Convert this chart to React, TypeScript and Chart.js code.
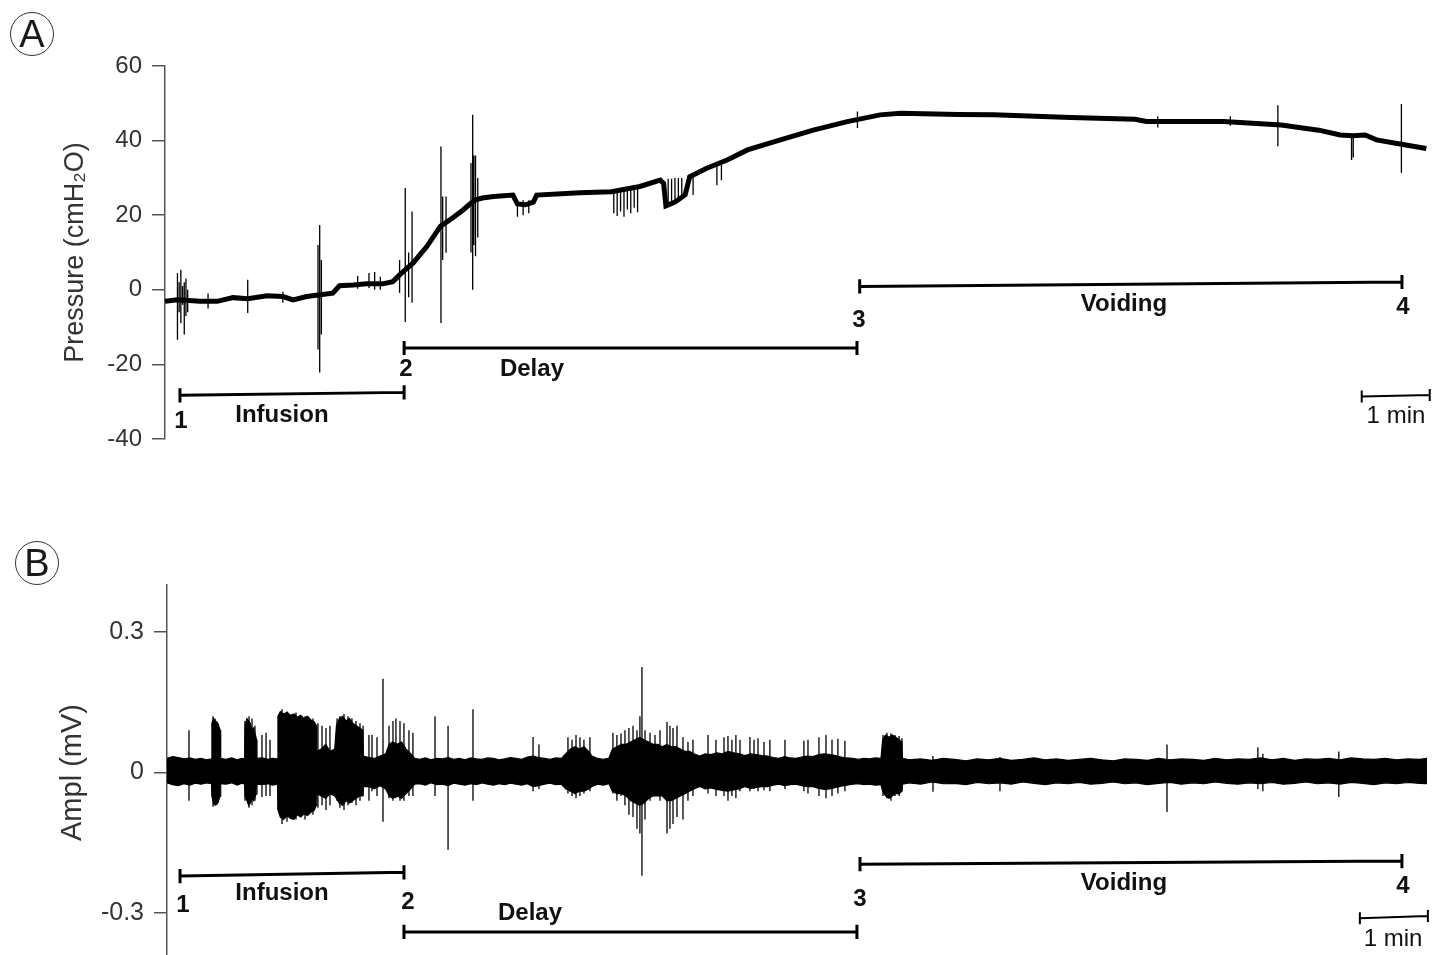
import React, { useEffect, useRef } from "react";
import { Chart, registerables } from "chart.js";

Chart.register(...registerables);

const FONT = '"Liberation Sans", Arial, Helvetica, sans-serif';
const X_MAX = 1118; // seconds spanned by the plot width

// ---------------- Panel A: bladder pressure (cmH2O) vs time (s) ----------------
const pressureTime = [
  0, 11, 31, 46, 60, 73, 90, 104, 113, 125, 137, 148, 154, 166, 178, 192, 201, 207, 213, 219,
  231, 243, 254, 263, 269, 274, 280, 290, 307, 311, 318, 325, 328, 366, 394, 419, 437, 440, 442, 450,
  459, 463, 478, 496, 514, 543, 572, 602, 631, 649, 700, 731, 799, 856, 866, 934, 985, 1018, 1037, 1048,
  1059, 1069, 1091, 1113,
];
const pressureValue = [
  -3.1, -2.7, -3.1, -3.1, -2.1, -2.4, -1.6, -1.8, -2.7, -1.8, -1.3, -0.9, 1.1, 1.3, 1.6, 1.6, 2.2, 4.0, 5.6, 7.2,
  11.6, 17.0, 19.3, 21.4, 23.0, 24.1, 24.6, 25.0, 25.4, 23.0, 22.8, 23.5, 25.4, 26.0, 26.3, 27.7, 29.4, 28.5, 22.5, 23.5,
  25.5, 30.3, 32.6, 34.8, 37.5, 40.2, 42.8, 45.1, 46.9, 47.3, 47.0, 46.9, 46.2, 45.7, 45.1, 45.1, 44.2, 42.8, 41.5, 41.3,
  41.5, 40.2, 39.0, 37.9,
];
const pressureSpikeTime = [
  11, 12.5, 14, 15.5, 17, 18.5, 20, 38, 73, 104,
  135, 136.5, 138, 170, 180, 185, 190, 207, 212, 215,
  218, 243.5, 245, 248, 270, 271.5, 272.5, 274, 276, 311,
  316, 321, 396, 399, 402, 405, 408, 411, 414, 417,
  444, 447, 450, 453, 456, 466, 487, 491, 611, 876,
  940, 982, 1047, 1048.5, 1091,
];
const pressureSpikeLow = [
  -13.4, -6, -9, -4, -12, -7, -6, -5, -6.2, -3.5,
  -16, -22.2, -12, 0.3, 0.5, 0, 0, -0.8, -8.6, -2,
  -3.5, -8.9, 8, 9.9, 10, 0, 12, 9, 14, 19.6,
  20, 20.5, 20.5, 19.8, 21, 19.6, 21.5, 20.5, 22, 20.8,
  22.8, 23, 23.5, 24, 24.5, 25.4, 28, 29.4, 43.4, 43.5,
  44, 38.5, 34.8, 35.5, 31.4,
];
const pressureSpikeHigh = [
  4.5, 2, 5.4, 1, 2, 3, 0, -1, 2.7, -0.5,
  12, 17.4, 8, 3.7, 4.5, 4.8, 3.5, 8, 27.3, 10,
  21, 38.4, 25, 25, 34, 46.9, 36, 36, 30, 24,
  24, 24, 26.3, 26.3, 26.5, 26.5, 26.8, 27, 27.2, 27.5,
  29.8, 29.8, 30, 30, 30, 30.5, 33.5, 33.5, 47.8, 46.5,
  46.5, 49.5, 41.5, 41.5, 49.8,
];
const pressureTicks = [60, 40, 20, 0, -20, -40];

// phase brackets (Infusion, Delay, Voiding) and 1-min scale bar, panel A
const phaseStartA = [13.2, 211, 613];
const phaseEndA = [211, 610.6, 1091.5];
const phaseLevelStartA = [-28.3, -15.6, 0.9];
const phaseLevelEndA = [-27.5, -15.6, 2.1];
const scaleBarTimeA = [1056, 1116];
const scaleBarLevelA = [-28.6, -28.2];

const labelText = ["1", "Infusion", "2", "Delay", "3", "Voiding", "4", "1 min"];
const labelBold = [true, true, true, true, true, true, true, false];
const labelTimeA = [14.1, 103.2, 212.6, 323.8, 612.3, 846.2, 1092.3, 1086.2];
const labelValueA = [-35.3, -33.7, -21.4, -21.2, -8.3, -4.0, -4.6, -34.0];

// ---------------- Panel B: EMG amplitude (mV) vs time (s) ----------------
// envelope of the dense EMG band (upper / lower edge)
const emgBandTime = [
  0, 5, 10, 15, 20, 25, 30, 35, 39.3, 39.6,
  41, 42.5, 44, 45.5, 47, 47.4, 52, 57, 62, 66,
  68.5, 68.9, 70.5, 72, 73.5, 75, 76.5, 78, 79, 79.4,
  84, 89, 93, 97.5, 97.9, 100, 103, 106, 109, 112,
  115, 118, 121, 124, 127, 130, 131.8, 132.2, 136, 140,
  144, 148, 149.5, 152, 155, 158, 161, 164, 167, 170,
  172.8, 173.3, 178, 183, 188, 193, 196, 199, 203, 207,
  211, 215, 218.5, 223, 228, 233, 238, 243, 248, 253,
  258, 263, 268, 273, 278, 283, 288, 293, 298, 303,
  308, 313, 318, 323, 328, 333, 338, 343, 348, 352,
  356, 360, 364, 368, 372, 375, 380, 385, 390, 393,
  397, 401, 405, 409, 413, 417, 421, 425, 429, 433,
  437, 441, 445, 449, 453, 457, 461, 465, 470, 475,
  480, 485, 490, 495, 500, 505, 510, 515, 520, 525,
  530, 535, 540, 545, 550, 555, 560, 565, 570, 575,
  580, 585, 590, 595, 600, 605, 610, 615, 620, 625,
  630, 631.5, 634, 637, 640, 643, 646, 648.5, 649, 655,
  665, 675, 685, 695, 705, 715, 725, 735, 745, 755,
  765, 775, 785, 795, 805, 815, 825, 835, 845, 855,
  865, 875, 885, 895, 905, 915, 925, 935, 945, 955,
  965, 975, 985, 995, 1005, 1015, 1025, 1035, 1045, 1055,
  1065, 1075, 1085, 1095, 1105, 1111.8,
];
const emgBandHigh = [
  0.030, 0.034, 0.032, 0.029, 0.031, 0.028, 0.030, 0.027, 0.029, 0.105,
  0.115, 0.11, 0.108, 0.10, 0.09, 0.03, 0.028, 0.031, 0.027, 0.030,
  0.029, 0.10, 0.115, 0.11, 0.105, 0.09, 0.095, 0.08, 0.07, 0.03,
  0.031, 0.028, 0.030, 0.029, 0.12, 0.13, 0.125, 0.128, 0.122, 0.125,
  0.118, 0.122, 0.115, 0.12, 0.112, 0.108, 0.10, 0.045, 0.05, 0.06,
  0.045, 0.05, 0.10, 0.115, 0.12, 0.11, 0.115, 0.105, 0.10, 0.095,
  0.09, 0.035, 0.032, 0.030, 0.035, 0.04, 0.06, 0.065, 0.06, 0.065,
  0.05, 0.04, 0.03, 0.028, 0.031, 0.027, 0.030, 0.029, 0.032, 0.028,
  0.030, 0.027, 0.031, 0.029, 0.028, 0.031, 0.030, 0.027, 0.029, 0.032,
  0.030, 0.028, 0.033, 0.035, 0.032, 0.030, 0.028, 0.031, 0.030, 0.04,
  0.05, 0.055, 0.05, 0.055, 0.045, 0.035, 0.03, 0.028, 0.031, 0.05,
  0.055, 0.06, 0.06, 0.065, 0.07, 0.075, 0.07, 0.065, 0.06, 0.06,
  0.055, 0.06, 0.055, 0.055, 0.05, 0.045, 0.045, 0.04, 0.035, 0.04,
  0.038, 0.042, 0.04, 0.045, 0.042, 0.04, 0.036, 0.04, 0.038, 0.036,
  0.035, 0.032, 0.030, 0.034, 0.031, 0.030, 0.033, 0.035, 0.034, 0.038,
  0.04, 0.038, 0.036, 0.033, 0.031, 0.030, 0.028, 0.030, 0.029, 0.031,
  0.030, 0.07, 0.08, 0.075, 0.08, 0.075, 0.07, 0.065, 0.03, 0.027,
  0.029, 0.026, 0.030, 0.028, 0.025, 0.029, 0.027, 0.030, 0.026, 0.028,
  0.031, 0.027, 0.029, 0.026, 0.028, 0.030, 0.027, 0.025, 0.029, 0.028,
  0.026, 0.030, 0.027, 0.029, 0.028, 0.026, 0.030, 0.027, 0.029, 0.028,
  0.031, 0.027, 0.030, 0.026, 0.029, 0.028, 0.030, 0.027, 0.031, 0.029,
  0.028, 0.030, 0.027, 0.029, 0.028, 0.030,
];
const emgBandLow = [
  -0.022, -0.026, -0.028, -0.024, -0.027, -0.023, -0.025, -0.022, -0.024, -0.05,
  -0.065, -0.07, -0.068, -0.06, -0.05, -0.024, -0.025, -0.022, -0.027, -0.023,
  -0.025, -0.05, -0.06, -0.07, -0.065, -0.055, -0.06, -0.05, -0.045, -0.025,
  -0.026, -0.024, -0.027, -0.025, -0.08, -0.095, -0.10, -0.092, -0.098, -0.10,
  -0.09, -0.095, -0.088, -0.092, -0.085, -0.08, -0.07, -0.045, -0.05, -0.055,
  -0.045, -0.05, -0.055, -0.065, -0.07, -0.06, -0.065, -0.06, -0.055, -0.05,
  -0.05, -0.03, -0.03, -0.035, -0.028, -0.035, -0.05, -0.055, -0.05, -0.055,
  -0.045, -0.035, -0.025, -0.024, -0.027, -0.022, -0.026, -0.025, -0.028, -0.023,
  -0.025, -0.027, -0.024, -0.026, -0.022, -0.025, -0.027, -0.024, -0.026, -0.023,
  -0.025, -0.027, -0.024, -0.030, -0.028, -0.025, -0.023, -0.026, -0.025, -0.035,
  -0.04, -0.045, -0.04, -0.04, -0.035, -0.03, -0.025, -0.027, -0.024, -0.04,
  -0.045, -0.045, -0.05, -0.06, -0.065, -0.07, -0.065, -0.055, -0.05, -0.05,
  -0.05, -0.06, -0.06, -0.055, -0.05, -0.045, -0.04, -0.035, -0.03, -0.035,
  -0.033, -0.036, -0.038, -0.04, -0.037, -0.035, -0.03, -0.034, -0.032, -0.03,
  -0.03, -0.027, -0.025, -0.028, -0.026, -0.025, -0.028, -0.03, -0.03, -0.034,
  -0.036, -0.035, -0.032, -0.029, -0.027, -0.025, -0.024, -0.026, -0.025, -0.027,
  -0.026, -0.04, -0.05, -0.055, -0.05, -0.045, -0.045, -0.04, -0.025, -0.022,
  -0.025, -0.020, -0.024, -0.023, -0.026, -0.021, -0.024, -0.022, -0.025, -0.020,
  -0.023, -0.026, -0.022, -0.024, -0.021, -0.025, -0.023, -0.020, -0.024, -0.022,
  -0.026, -0.023, -0.021, -0.025, -0.022, -0.024, -0.020, -0.023, -0.025, -0.022,
  -0.024, -0.021, -0.025, -0.023, -0.020, -0.024, -0.022, -0.025, -0.021, -0.023,
  -0.026, -0.022, -0.024, -0.021, -0.023, -0.024,
];
// individual EMG discharges (vertical strokes)
const emgSpikeTime = [
  19.4, 40.6, 42.4, 45.0, 68.8, 72.4, 75.0, 77.6, 83.8, 87.4,
  90.9, 101.5, 105.9, 113.8, 121.8, 128.8, 133.2, 136.8, 140.3, 143.8,
  150.0, 152.6, 156.2, 159.7, 163.2, 166.8, 170.3, 173.0, 178.2, 180.9,
  185.3, 190.6, 195.9, 199.4, 202.0, 205.6, 209.1, 213.5, 217.0, 236.5,
  248.0, 270.0, 323.0, 328.2, 353.8, 357.4, 360.9, 364.4, 367.9, 373.2,
  393.5, 397.0, 400.6, 404.1, 407.6, 411.2, 414.7, 417.3, 419.1, 421.8,
  426.2, 430.6, 435.0, 441.2, 443.8, 446.5, 450.0, 455.3, 459.7, 464.1,
  477.4, 484.4, 491.5, 495.0, 498.5, 502.0, 505.6, 514.4, 518.0, 521.5,
  526.8, 532.0, 545.3, 562.0, 565.6, 575.3, 581.5, 586.8, 592.0, 598.2,
  631.8, 635.3, 638.8, 642.4, 646.0, 648.5, 675.9, 735.0, 882.4, 962.6,
  967.0, 1034.0,
];
const emgSpikeHigh = [
  0.09, 0.12, 0.115, 0.105, 0.11, 0.12, 0.115, 0.1, 0.08, 0.085,
  0.07, 0.135, 0.13, 0.128, 0.12, 0.115, 0.105, 0.1, 0.095, 0.1,
  0.115, 0.12, 0.125, 0.12, 0.115, 0.11, 0.105, 0.1, 0.08, 0.08,
  0.075, 0.2, 0.1, 0.11, 0.115, 0.11, 0.105, 0.09, 0.085, 0.12,
  0.1, 0.135, 0.076, 0.06, 0.075, 0.07, 0.08, 0.075, 0.07, 0.075,
  0.085, 0.08, 0.083, 0.09, 0.095, 0.1, 0.09, 0.12, 0.225, 0.09,
  0.085, 0.08, 0.09, 0.108, 0.1, 0.095, 0.1, 0.075, 0.065, 0.07,
  0.08, 0.07, 0.075, 0.078, 0.07, 0.08, 0.07, 0.076, 0.07, 0.073,
  0.065, 0.07, 0.07, 0.068, 0.07, 0.075, 0.08, 0.07, 0.072, 0.068,
  0.08, 0.085, 0.083, 0.08, 0.078, 0.073, 0.035, 0.033, 0.06, 0.054,
  0.04, 0.045,
];
const emgSpikeLow = [
  -0.06, -0.073, -0.07, -0.065, -0.06, -0.075, -0.07, -0.06, -0.052, -0.05,
  -0.05, -0.11, -0.105, -0.1, -0.1, -0.09, -0.075, -0.07, -0.08, -0.07,
  -0.06, -0.075, -0.08, -0.07, -0.065, -0.07, -0.06, -0.05, -0.06, -0.04,
  -0.05, -0.105, -0.055, -0.06, -0.055, -0.06, -0.06, -0.05, -0.05, -0.05,
  -0.165, -0.06, -0.04, -0.035, -0.045, -0.05, -0.055, -0.05, -0.045, -0.04,
  -0.045, -0.06, -0.05, -0.07, -0.09, -0.095, -0.12, -0.13, -0.22, -0.1,
  -0.06, -0.05, -0.06, -0.13, -0.12, -0.11, -0.095, -0.1, -0.06, -0.05,
  -0.045, -0.05, -0.05, -0.06, -0.05, -0.055, -0.04, -0.04, -0.035, -0.04,
  -0.038, -0.04, -0.035, -0.04, -0.045, -0.05, -0.055, -0.05, -0.045, -0.04,
  -0.05, -0.055, -0.06, -0.05, -0.05, -0.04, -0.041, -0.04, -0.084, -0.035,
  -0.04, -0.052,
];
const emgTicks = [0.3, 0, -0.3];

const phaseStartB = [11.5, 209.1, 611.5];
const phaseEndB = [209.1, 608.8, 1089.7];
const phaseLevelStartB = [-0.221, -0.34, -0.1955];
const phaseLevelEndB = [-0.213, -0.34, -0.189];
const scaleBarTimeB = [1052.6, 1112.6];
const scaleBarLevelB = [-0.311, -0.306];
const labelTimeB = [14.1, 101.5, 212.6, 320.3, 611.5, 844.4, 1090.6, 1081.8];
const labelValueB = [-0.283, -0.257, -0.276, -0.3, -0.27, -0.236, -0.242, -0.355];

// ---------------- helpers ----------------
type Pt = { x: number; y: number | null };

function spikePoints(t: number[], lo: number[], hi: number[]): Pt[] {
  const out: Pt[] = [];
  for (let i = 0; i < t.length; i++) {
    out.push({ x: t[i], y: lo[i] }, { x: t[i], y: hi[i] }, { x: t[i], y: null });
  }
  return out;
}

function bracketPoints(x1: number, x2: number, y1: number, y2: number, cap: number): Pt[] {
  return [
    { x: x1, y: y1 - cap }, { x: x1, y: y1 + cap }, { x: x1, y: null },
    { x: x1, y: y1 }, { x: x2, y: y2 }, { x: x2, y: null },
    { x: x2, y: y2 - cap }, { x: x2, y: y2 + cap },
  ];
}

function lineDs(data: Pt[], width: number, extra: any = {}) {
  return {
    type: "line" as const,
    data,
    borderColor: "#000",
    backgroundColor: "#000",
    borderWidth: width,
    pointRadius: 0,
    tension: 0,
    spanGaps: false,
    ...extra,
  };
}

function bracketDatasets(s: number[], e: number[], ls: number[], le: number[], sbT: number[], sbL: number[], cap: number) {
  const out: any[] = [];
  for (let i = 0; i < s.length; i++) {
    out.push(lineDs(bracketPoints(s[i], e[i], ls[i], le[i], cap), 3));
  }
  out.push(lineDs(bracketPoints(sbT[0], sbT[1], sbL[0], sbL[1], cap * 0.85), 2));
  return out;
}

function labelPlugin(id: string, times: number[], values: number[]) {
  return {
    id,
    afterDatasetsDraw(chart: any) {
      const { ctx } = chart;
      const xs = chart.scales.x;
      const ys = chart.scales.y;
      ctx.save();
      ctx.fillStyle = "#111";
      ctx.textAlign = "center";
      ctx.textBaseline = "middle";
      labelText.forEach((txt, i) => {
        ctx.font = labelBold[i] ? `bold 24px ${FONT}` : `24px ${FONT}`;
        ctx.fillText(txt, xs.getPixelForValue(times[i]), ys.getPixelForValue(values[i]));
      });
      ctx.restore();
    },
  };
}

function yAxis(
  min: number, max: number, ticks: number[], width: number, title: string, titleSize: number,
  tickSize: number, fmt: (v: number) => string
) {
  return {
    min,
    max,
    afterFit: (s: any) => {
      s.width = width;
    },
    afterBuildTicks: (s: any) => {
      s.ticks = ticks.map((v) => ({ value: v }));
    },
    ticks: {
      font: { family: FONT, size: tickSize },
      color: "#333",
      padding: 10,
      callback: (v: any) => fmt(Number(v)),
    },
    grid: { drawOnChartArea: false, drawTicks: true, tickLength: 13, color: "#555", lineWidth: 1.5 },
    border: { display: true, color: "#555", width: 1.5 },
    title: { display: true, text: title, font: { family: FONT, size: titleSize }, color: "#333", padding: { top: 0, bottom: 0 } },
  };
}

export default function App() {
  const refA = useRef<HTMLCanvasElement>(null);
  const refB = useRef<HTMLCanvasElement>(null);

  useEffect(() => {
    const pressurePts: Pt[] = pressureTime.map((t, i) => ({ x: t, y: pressureValue[i] }));
    const chartA = new Chart(refA.current as HTMLCanvasElement, {
      type: "line",
      data: {
        datasets: [
          lineDs(pressurePts, 5),
          lineDs(spikePoints(pressureSpikeTime, pressureSpikeLow, pressureSpikeHigh), 1.3),
          ...bracketDatasets(phaseStartA, phaseEndA, phaseLevelStartA, phaseLevelEndA, scaleBarTimeA, scaleBarLevelA, 1.9),
        ],
      },
      options: {
        responsive: false,
        animation: false,
        devicePixelRatio: 1,
        layout: { padding: { left: 59, top: 66, right: 7, bottom: 31 } },
        plugins: { legend: { display: false }, tooltip: { enabled: false } },
        scales: {
          x: { type: "linear", min: 0, max: X_MAX, display: false },
          y: yAxis(-40, 60, pressureTicks, 106, "Pressure (cmH\u2082O)", 27, 24, (v) => String(v)) as any,
        },
      },
      plugins: [labelPlugin("labelsA", labelTimeA, labelValueA)],
    } as any);

    const hiPts: Pt[] = emgBandTime.map((t, i) => ({ x: t, y: emgBandHigh[i] }));
    const loPts: Pt[] = emgBandTime.map((t, i) => ({ x: t, y: emgBandLow[i] }));
    const chartB = new Chart(refB.current as HTMLCanvasElement, {
      type: "line",
      data: {
        datasets: [
          lineDs(hiPts, 1.2, { fill: "+1" }),
          lineDs(loPts, 1.2, { fill: false }),
          lineDs(spikePoints(emgSpikeTime, emgSpikeLow, emgSpikeHigh), 1.3),
          ...bracketDatasets(phaseStartB, phaseEndB, phaseLevelStartB, phaseLevelEndB, scaleBarTimeB, scaleBarLevelB, 0.015),
        ],
      },
      options: {
        responsive: false,
        animation: false,
        devicePixelRatio: 1,
        layout: { padding: { left: 56, top: 115, right: 5, bottom: 25 } },
        plugins: { legend: { display: false }, tooltip: { enabled: false } },
        scales: {
          x: { type: "linear", min: 0, max: X_MAX, display: false },
          y: yAxis(-0.4, 0.4, emgTicks, 111, "Ampl (mV)", 29, 25, (v) => (v === 0 ? "0" : v.toFixed(1))) as any,
        },
      },
      plugins: [labelPlugin("labelsB", labelTimeB, labelValueB)],
    } as any);

    return () => {
      chartA.destroy();
      chartB.destroy();
    };
  }, []);

  const circle = (left: number, top: number, letter: string) => (
    <div
      style={{
        position: "absolute",
        left,
        top,
        width: 42,
        height: 42,
        border: "1.3px solid #333",
        borderRadius: "50%",
        display: "flex",
        alignItems: "center",
        justifyContent: "center",
        fontFamily: FONT,
        fontSize: 38,
        lineHeight: "42px",
        color: "#1a1a1a",
      }}
    >
      {letter}
    </div>
  );

  return (
    <div
      style={{
        position: "absolute",
        left: 0,
        top: 0,
        width: 1439,
        height: 955,
        overflow: "hidden",
        background: "#fff",
      }}
    >
      <canvas ref={refA} width={1439} height={470} style={{ position: "absolute", left: 0, top: 0 }} />
      <canvas ref={refB} width={1439} height={515} style={{ position: "absolute", left: 0, top: 470 }} />
      {circle(10, 12, "A")}
      {circle(15, 541, "B")}
    </div>
  );
}
